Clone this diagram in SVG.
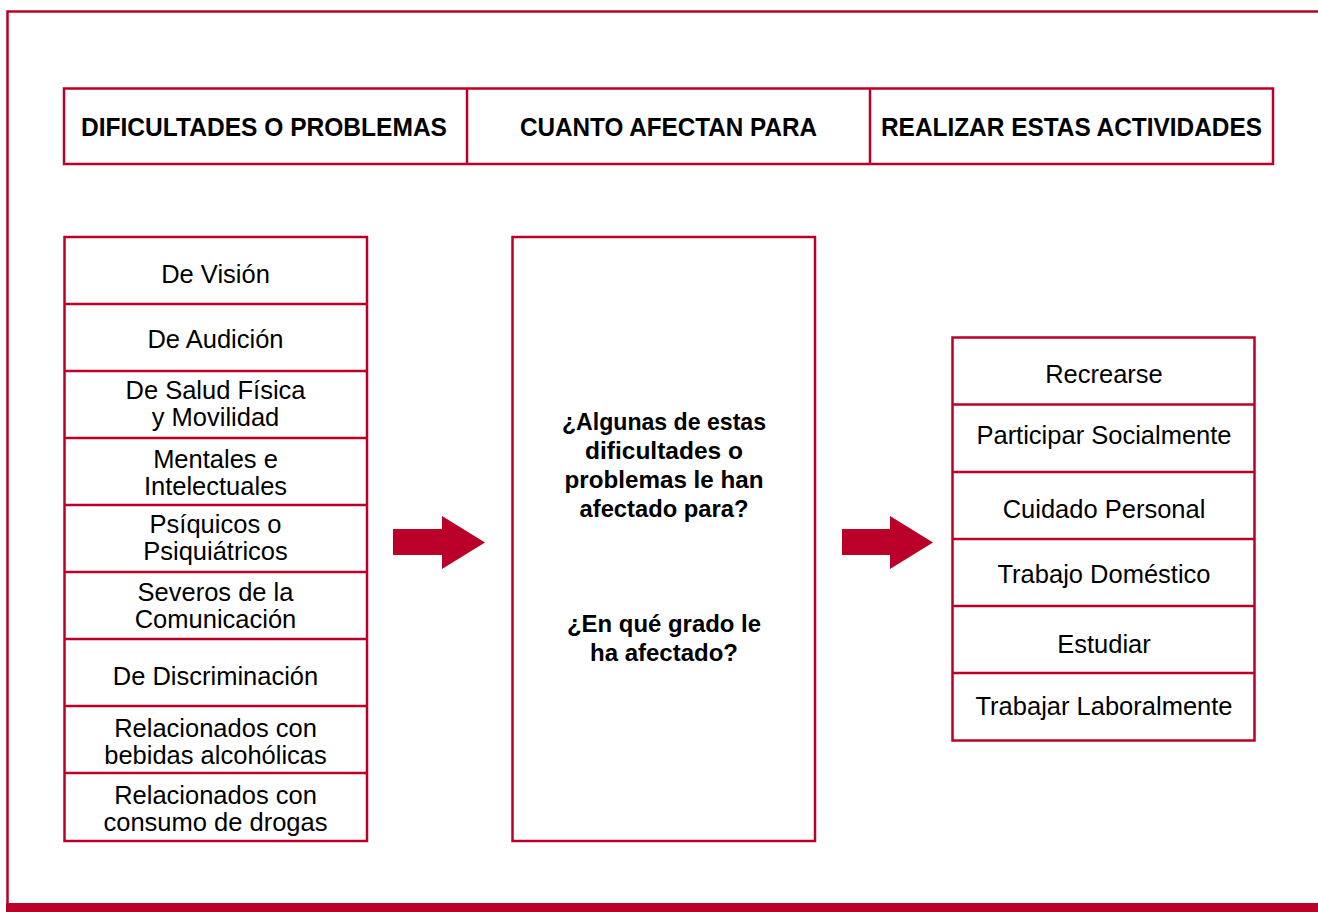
<svg xmlns="http://www.w3.org/2000/svg" width="1318" height="912" viewBox="0 0 1318 912">
<style>
.box{fill:#fff;stroke:#BA0029;stroke-width:2.5}
.ln{stroke:#BA0029;stroke-width:2.5;fill:none}
.h{font-family:"Liberation Sans",Arial,sans-serif;font-weight:bold;font-size:26px;fill:#000;text-anchor:middle}
.t{font-family:"Liberation Sans",Arial,sans-serif;font-size:25.5px;fill:#000;text-anchor:middle}
.q{font-family:"Liberation Sans",Arial,sans-serif;font-weight:bold;font-size:24px;fill:#000;text-anchor:middle}
.arr{fill:#BA0029}
</style>
<rect width="1318" height="912" fill="#fff"/>
<g id="frame">
<path class="ln" d="M1320,11.5 H7.5 V904"/>
<rect x="6" y="903" width="1312" height="9" fill="#BA0029"/>
</g>
<g id="header">
<rect class="box" x="64" y="88.5" width="1209" height="75.5"/>
<line class="ln" x1="467" y1="88.5" x2="467" y2="164"/>
<line class="ln" x1="870" y1="88.5" x2="870" y2="164"/>
<text class="h" x="264" y="135.5" textLength="366" lengthAdjust="spacingAndGlyphs">DIFICULTADES O PROBLEMAS</text>
<text class="h" x="668.5" y="135.5" textLength="297" lengthAdjust="spacingAndGlyphs">CUANTO AFECTAN PARA</text>
<text class="h" x="1071.5" y="135.5" textLength="381" lengthAdjust="spacingAndGlyphs">REALIZAR ESTAS ACTIVIDADES</text>
</g>
<g id="dificultades">
<rect class="box" x="64.5" y="237" width="302.5" height="604"/>
<line class="ln" x1="64.5" y1="304" x2="367" y2="304"/>
<line class="ln" x1="64.5" y1="371" x2="367" y2="371"/>
<line class="ln" x1="64.5" y1="438" x2="367" y2="438"/>
<line class="ln" x1="64.5" y1="505" x2="367" y2="505"/>
<line class="ln" x1="64.5" y1="572" x2="367" y2="572"/>
<line class="ln" x1="64.5" y1="639" x2="367" y2="639"/>
<line class="ln" x1="64.5" y1="706" x2="367" y2="706"/>
<line class="ln" x1="64.5" y1="773" x2="367" y2="773"/>
<text class="t" x="215.5" y="283">De Visión</text>
<text class="t" x="215.5" y="348">De Audición</text>
<text class="t" x="215.5" y="399">De Salud Física</text>
<text class="t" x="215.5" y="426">y Movilidad</text>
<text class="t" x="215.5" y="468">Mentales e</text>
<text class="t" x="215.5" y="495">Intelectuales</text>
<text class="t" x="215.5" y="533">Psíquicos o</text>
<text class="t" x="215.5" y="560">Psiquiátricos</text>
<text class="t" x="215.5" y="601">Severos de la</text>
<text class="t" x="215.5" y="628">Comunicación</text>
<text class="t" x="215.5" y="685">De Discriminación</text>
<text class="t" x="215.5" y="737">Relacionados con</text>
<text class="t" x="215.5" y="764">bebidas alcohólicas</text>
<text class="t" x="215.5" y="804">Relacionados con</text>
<text class="t" x="215.5" y="831">consumo de drogas</text>
</g>
<g id="pregunta">
<rect class="box" x="512.5" y="237" width="302.5" height="604"/>
<text class="q" x="664" y="430" textLength="204" lengthAdjust="spacingAndGlyphs">¿Algunas de estas</text>
<text class="q" x="664" y="459" textLength="158" lengthAdjust="spacingAndGlyphs">dificultades o</text>
<text class="q" x="664" y="488" textLength="199" lengthAdjust="spacingAndGlyphs">problemas le han</text>
<text class="q" x="664" y="517" textLength="169" lengthAdjust="spacingAndGlyphs">afectado para?</text>
<text class="q" x="664" y="632" textLength="194" lengthAdjust="spacingAndGlyphs">¿En qué grado le</text>
<text class="q" x="664" y="661">ha afectado?</text>
</g>
<g id="actividades">
<rect class="box" x="952.5" y="337.5" width="302" height="403"/>
<line class="ln" x1="952.5" y1="404.5" x2="1254.5" y2="404.5"/>
<line class="ln" x1="952.5" y1="472" x2="1254.5" y2="472"/>
<line class="ln" x1="952.5" y1="539" x2="1254.5" y2="539"/>
<line class="ln" x1="952.5" y1="606" x2="1254.5" y2="606"/>
<line class="ln" x1="952.5" y1="673" x2="1254.5" y2="673"/>
<text class="t" x="1104" y="383">Recrearse</text>
<text class="t" x="1104" y="444">Participar Socialmente</text>
<text class="t" x="1104" y="518">Cuidado Personal</text>
<text class="t" x="1104" y="583">Trabajo Doméstico</text>
<text class="t" x="1104" y="653">Estudiar</text>
<text class="t" x="1104" y="715">Trabajar Laboralmente</text>
</g>
<g id="connectors">
<path class="arr" d="M393,529 H442 V516 L485,542.5 L442,569 V555 H393 Z"/>
<path class="arr" d="M842,529 H890 V516 L933,542.5 L890,569 V555 H842 Z"/>
</g>
</svg>
